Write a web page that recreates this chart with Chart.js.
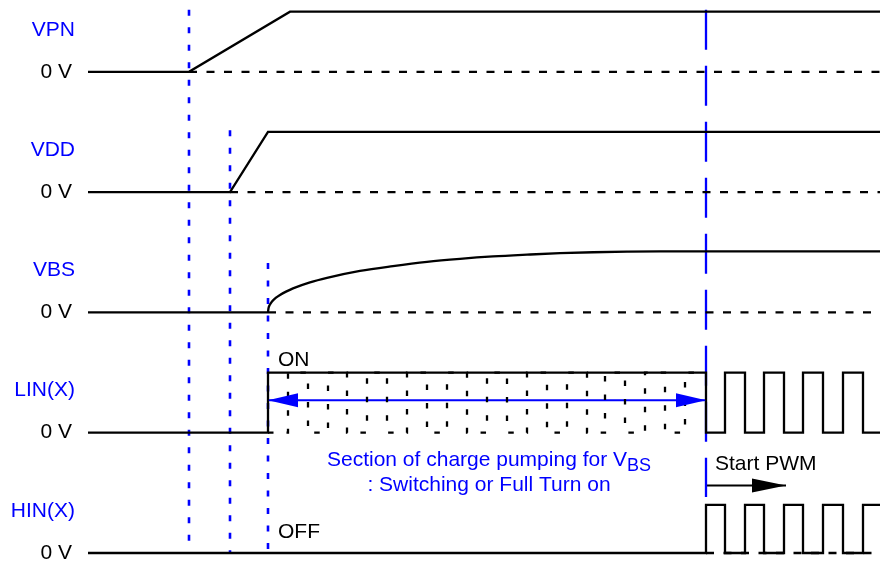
<!DOCTYPE html>
<html>
<head>
<meta charset="utf-8">
<script src="https://cdn.jsdelivr.net/npm/chart.js@4.4.1/dist/chart.umd.min.js"></script>
<style>
    body { margin: 0; background: #fff; }
    #wrap { width: 880px; height: 562px; }
</style>
</head>
<body>
<div id="wrap"><canvas id="timingChart" width="880" height="562"></canvas></div>
<script>
// Lanes, top to bottom, and the level each one sits on
const laneNames = ['VPN', 'VDD', 'VBS', 'LIN(X)', 'HIN(X)'];
const laneBase = [8, 6, 4, 2, 0];

// Signal waveforms (time, level above the lane's 0 V)
const vpnTime = [88, 189, 290, 880];
const vpnLevel = [0, 0, 1, 1];

const vddTime = [88, 230, 268, 880];
const vddLevel = [0, 0, 1, 1];

const vbsOffTime = [88, 268];
const vbsTime = [268, 268.5, 270, 272, 276, 280, 286, 293, 310, 327, 360, 393, 427, 460, 493, 527, 560, 593, 627, 660, 703, 880];
const vbsLevel = [0, 0.07, 0.13, 0.18, 0.245, 0.29, 0.345, 0.40, 0.50, 0.575, 0.69, 0.77, 0.84, 0.89, 0.93, 0.96, 0.985, 1.0, 1.01, 1.015, 1.015, 1.015];

const linTime = [88, 268, 706, 725, 745, 764, 784, 803, 823, 843, 863, 880];
const linLevel = [0, 1, 0, 1, 0, 1, 0, 1, 0, 1, 0, 0];

// dashed switching pattern while charge pumping
const linPumpTime = [268, 288, 308, 328, 347, 367, 387, 407, 427, 447, 467, 487, 507, 527, 547, 567, 587, 605, 625, 645, 665, 685, 706];
const linPumpLevel = [0, 1, 0, 1, 0, 1, 0, 1, 0, 1, 0, 1, 0, 1, 0, 1, 0, 1, 0, 1, 0, 1, 1];

const hinTime = [88, 706, 725, 745, 764, 784, 803, 823, 843, 863, 880];
const hinLevel = [0, 0.8, 0, 0.8, 0, 0.8, 0, 0.8, 0, 0.8, 0.8];

// dashed 0 V reference after each signal leaves 0 V (lane index, start time)
const refLane = [0, 1, 2, 4];
const refStart = [189, 230, 268, 706];
const refEnd = 880;

// blue timing markers
const markerTime = [189, 230, 268, 706];
const markerTop = [9.03, 7.03, 4.82, 9.03];
const markerBottom = [0, 0, 0, 0.93];

// arrows
const pumpArrowTime = [268, 706];
const pumpArrowLevel = 2.54;
const pwmArrowTime = [706, 786];
const pwmArrowLevel = 1.12;

const BLUE = '#0000ff';
const BLACK = '#000000';
const FONT = '"Liberation Sans", Arial, Helvetica, sans-serif';

function pts(times, levels, base) {
    return times.map((t, i) => ({ x: t, y: base + levels[i] }));
}

function line(data, extra) {
    return Object.assign({
        data: data,
        borderColor: BLACK,
        borderWidth: 2.3,
        pointRadius: 0,
        fill: false,
        tension: 0,
    }, extra || {});
}

const datasets = [];

// 0 V references first so solid traces sit on top
refLane.forEach((lane, i) => {
    datasets.push(line([
        { x: refStart[i], y: laneBase[lane] },
        { x: refEnd, y: laneBase[lane] },
    ], { borderDash: [8, 9.5] }));
});

datasets.push(line(pts(vpnTime, vpnLevel, laneBase[0])));
datasets.push(line(pts(vddTime, vddLevel, laneBase[1])));
datasets.push(line(pts(vbsOffTime, [0, 0], laneBase[2])));
datasets.push(line(pts(vbsTime, vbsLevel, laneBase[2]), { cubicInterpolationMode: 'monotone' }));
datasets.push(line(pts(linPumpTime, linPumpLevel, laneBase[3]), { stepped: 'before', borderDash: [5.5, 13] }));
datasets.push(line(pts(linTime, linLevel, laneBase[3]), { stepped: 'before' }));
datasets.push(line(pts(hinTime, hinLevel, laneBase[4]), { stepped: 'before' }));

markerTime.forEach((t, i) => {
    const last = i === markerTime.length - 1;
    datasets.push(line([
        { x: t, y: markerTop[i] },
        { x: t, y: markerBottom[i] },
    ], {
        borderColor: BLUE,
        borderWidth: last ? 2.3 : 2.6,
        borderDash: last ? [40, 16] : [6, 11.5],
    }));
});

datasets.push(line(pumpArrowTime.map(t => ({ x: t, y: pumpArrowLevel })), {
    borderColor: BLUE, borderWidth: 2, arrow: 'both', headLen: 30, headHalf: 7,
}));
datasets.push(line(pwmArrowTime.map(t => ({ x: t, y: pwmArrowLevel })), {
    borderColor: BLACK, borderWidth: 2, arrow: 'end', headLen: 34, headHalf: 7,
}));

const arrowHeads = {
    id: 'arrowHeads',
    afterDatasetsDraw(chart) {
        const ctx = chart.ctx;
        chart.data.datasets.forEach((ds, i) => {
            if (!ds.arrow) return;
            const pts = chart.getDatasetMeta(i).data;
            const a = pts[0], b = pts[pts.length - 1];
            const head = (tip, dir) => {
                ctx.beginPath();
                ctx.moveTo(tip.x, tip.y);
                ctx.lineTo(tip.x - dir * ds.headLen, tip.y - ds.headHalf);
                ctx.lineTo(tip.x - dir * ds.headLen, tip.y + ds.headHalf);
                ctx.closePath();
                ctx.fill();
            };
            ctx.save();
            ctx.fillStyle = ds.borderColor;
            head(b, 1);
            if (ds.arrow === 'both') head(a, -1);
            ctx.restore();
        });
    }
};

const labels = {
    id: 'labels',
    afterDatasetsDraw(chart) {
        const { ctx, scales: { x, y } } = chart;
        ctx.save();
        ctx.textBaseline = 'middle';
        ctx.font = '21px ' + FONT;

        laneNames.forEach((name, i) => {
            ctx.textAlign = 'right';
            ctx.fillStyle = BLUE;
            ctx.fillText(name, x.getPixelForValue(75), y.getPixelForValue(laneBase[i] + 0.7));
            ctx.fillStyle = BLACK;
            ctx.fillText('0 V', x.getPixelForValue(72), y.getPixelForValue(laneBase[i]));
        });

        ctx.textAlign = 'left';
        ctx.fillStyle = BLACK;
        ctx.fillText('ON', x.getPixelForValue(278), y.getPixelForValue(laneBase[3] + 1.21));
        ctx.fillText('OFF', x.getPixelForValue(278), y.getPixelForValue(laneBase[4] + 0.34));
        ctx.fillText('Start PWM', x.getPixelForValue(715), y.getPixelForValue(laneBase[4] + 1.48));

        // charge pumping note, centred on the pumping section
        const cx = x.getPixelForValue((pumpArrowTime[0] + pumpArrowTime[1]) / 2 + 2);
        const y1 = y.getPixelForValue(laneBase[4] + 1.54);
        const y2 = y.getPixelForValue(laneBase[4] + 1.12);
        ctx.fillStyle = BLUE;
        const main = 'Section of charge pumping for V';
        const w1 = ctx.measureText(main).width;
        ctx.font = '18px ' + FONT;
        const w2 = ctx.measureText('BS').width;
        const left = cx - (w1 + w2) / 2;
        ctx.fillText('BS', left + w1, y1 + 6);
        ctx.font = '21px ' + FONT;
        ctx.fillText(main, left, y1);
        ctx.textAlign = 'center';
        ctx.fillText(': Switching or Full Turn on', cx, y2);
        ctx.restore();
    }
};

new Chart(document.getElementById('timingChart'), {
    type: 'line',
    data: { datasets: datasets },
    options: {
        responsive: false,
        animation: false,
        layout: { padding: 0 },
        plugins: {
            legend: { display: false },
            tooltip: { enabled: false },
        },
        scales: {
            x: { type: 'linear', min: 0, max: 880, display: false },
            y: { type: 'linear', min: -0.15, max: 9.194, display: false },
        }
    },
    plugins: [arrowHeads, labels]
});
</script>
</body>
</html>
